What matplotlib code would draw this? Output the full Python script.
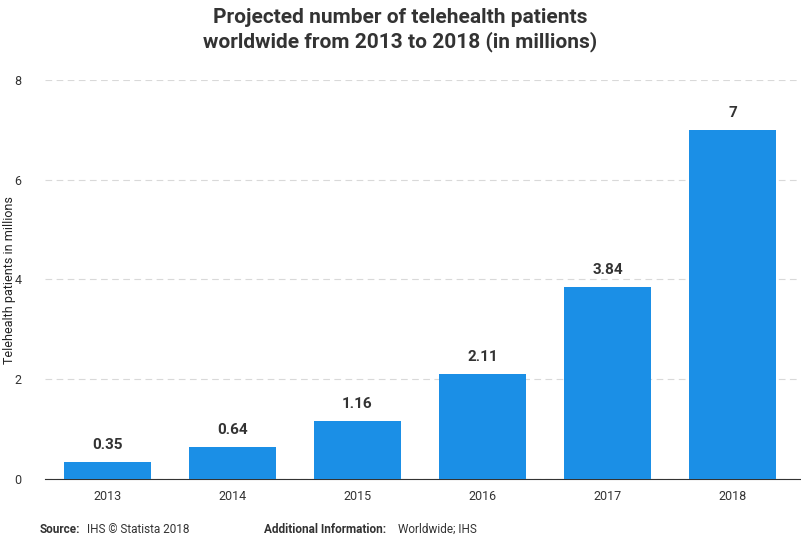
import matplotlib
matplotlib.use("Agg")
import matplotlib.pyplot as plt

plt.rcParams['font.family'] = ['Roboto', 'DejaVu Sans']

years = ["2013", "2014", "2015", "2016", "2017", "2018"]
values = [0.35, 0.64, 1.16, 2.11, 3.84, 7]
labels = ["0.35", "0.64", "1.16", "2.11", "3.84", "7"]

fig = plt.figure(figsize=(8.01, 5.39), dpi=100)
ax = fig.add_axes([0.056, 0.111, 0.943, 0.741])
x = range(len(years))
ax.bar(x, values, width=0.70, color="#1b8fe6", zorder=3)
for i, (v, l) in enumerate(zip(values, labels)):
    ax.text(i, v + 0.2, l, ha="center", va="bottom", fontsize=11, fontweight="bold", color="#333333")
ax.set_ylim(0, 8)
ax.set_xlim(-0.5, 5.54)
ax.set_yticks([0, 2, 4, 6, 8])
ax.set_xticks(list(x))
ax.set_xticklabels(years)
ax.tick_params(axis='both', length=0, labelsize=9, colors="#333333")
ax.tick_params(axis='x', pad=8)
ax.tick_params(axis='y', pad=22)
for lab in ax.get_yticklabels():
    lab.set_horizontalalignment('left')
ax.grid(axis='y', linestyle=(0, (6, 4)), color="#d9d9d9", linewidth=0.8, zorder=0)
for s in ["top", "right", "left"]:
    ax.spines[s].set_visible(False)
ax.spines["bottom"].set_color("#333333")
fig.text(10/801, 0.48, "Telehealth patients in millions", rotation=90, fontsize=9,
         color="#222222", ha="center", va="center")

fig.text(0.5, 0.985, "Projected number of telehealth patients\nworldwide from 2013 to 2018 (in millions)",
         ha="center", va="top", fontsize=15, fontweight="bold", color="#333333", linespacing=1.25)
fig.text(0.05, 0.012, "Source:", fontsize=8.5, fontweight="bold", color="#333333")
fig.text(0.108, 0.012, "IHS © Statista 2018", fontsize=8.5, color="#333333")
fig.text(0.33, 0.012, "Additional Information:", fontsize=8.5, fontweight="bold", color="#333333")
fig.text(0.497, 0.012, "Worldwide; IHS", fontsize=8.5, color="#333333")
fig.savefig("out.png", dpi=100)
